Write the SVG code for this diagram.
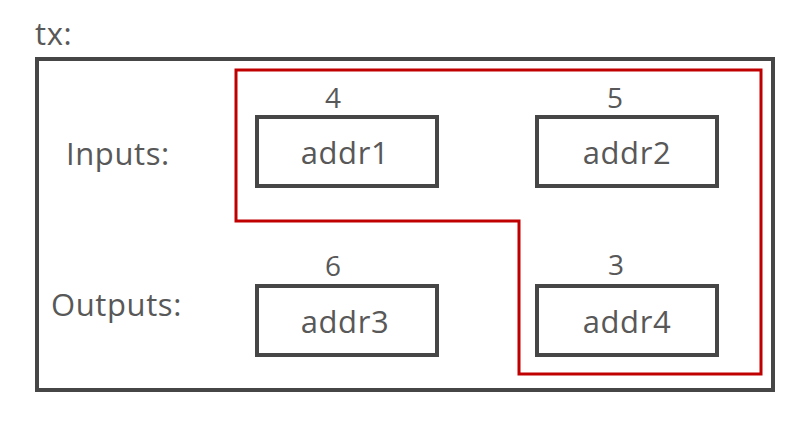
<svg xmlns="http://www.w3.org/2000/svg" width="807" height="422" viewBox="0 0 807 422">
<style>
.t{font-family:"Open Sans","Noto Sans","Liberation Sans",sans-serif;font-size:31px;letter-spacing:0.6px;fill:#585858}
.n{font-family:"Open Sans","Noto Sans","Liberation Sans",sans-serif;font-size:28px;fill:#585858;text-anchor:middle}
.c{text-anchor:middle}
.box{fill:#fff;stroke:#464646;stroke-width:4}
</style>
<rect width="807" height="422" fill="#fff"/>
<text class="t" x="35" y="45">tx:</text>
<rect x="37" y="59" width="736" height="331" fill="none" stroke="#464646" stroke-width="4"/>
<text class="t" x="66" y="165">Inputs:</text>
<text class="t" x="51" y="316">Outputs:</text>
<g id="connectors">
<path d="M236,70 H761 V374 H519 V221 H236 Z" fill="none" stroke="#c00000" stroke-width="3"/>
</g>
<g id="addr1"><rect class="box" x="257" y="117" width="180" height="69"/><text class="t c" x="345" y="164">addr1</text><text class="n" x="333" y="108">4</text></g>
<g id="addr2"><rect class="box" x="537" y="117" width="180" height="69"/><text class="t c" x="627" y="164">addr2</text><text class="n" x="615" y="108">5</text></g>
<g id="addr3"><rect class="box" x="257" y="286" width="180" height="69"/><text class="t c" x="345" y="333">addr3</text><text class="n" x="333" y="276">6</text></g>
<g id="addr4"><rect class="box" x="537" y="286" width="180" height="69"/><text class="t c" x="627" y="333">addr4</text><text class="n" x="616" y="275">3</text></g>
</svg>
